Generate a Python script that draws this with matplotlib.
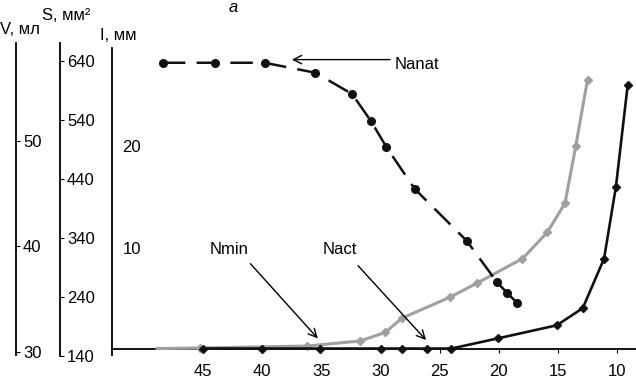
import numpy as np
import matplotlib.pyplot as plt

plt.rcParams['font.family'] = ['Liberation Sans', 'DejaVu Sans']

# %% data
# dashed curve (Nanat), S scale
anat_x = [48.4, 44.0, 39.8, 35.5, 32.4, 30.8, 29.5, 27.1, 22.7, 20.15, 19.3, 18.45]
anat_s = [637, 637, 637, 620, 584, 538, 494, 423, 335, 265, 247, 230]

# grey curve, I scale
grey_x = [48.9, 45.3, 36.2, 31.7, 29.6, 28.2, 24.1, 21.8, 18.0, 15.9, 14.4, 13.5, 12.5]
grey_i = [0, 0.05, 0.25, 0.75, 1.6, 3.0, 5.1, 6.5, 8.9, 11.5, 14.4, 20.0, 26.6]

# black curve, I scale
black_x = [45, 40, 35.1, 30, 28.2, 26.1, 24, 20.1, 15.1, 12.9, 11.1, 10.1, 9.1]
black_i = [0, 0, 0, 0, 0, 0, 0, 1.0, 2.3, 4.0, 8.9, 16.0, 26.1]

x_ticks = [45, 40, 35, 30, 25, 20, 15, 10]
v_ticks = [30, 40, 50]
s_ticks = [140, 240, 340, 440, 540, 640]
i_ticks = [10, 20]

W, H = 636, 384


def box(x0, y0, x1, y1):
    # pixel box (top-left origin) -> figure fraction rect
    return [x0 / W, 1 - y1 / H, (x1 - x0) / W, (y1 - y0) / H]


fig = plt.figure(figsize=(W / 100, H / 100), dpi=100)

# %% main axes (I scale)
ax = fig.add_axes(box(112, 48, 636, 355))
ax.set_xlim(52.7, 8.4)
ax.set_ylim(-0.64, 29.75)
ax.spines['top'].set_visible(False)
ax.spines['right'].set_visible(False)
ax.spines['bottom'].set_position(('data', 0))
ax.spines['left'].set_linewidth(1.3)
ax.spines['bottom'].set_linewidth(1.3)
ax.set_xticks(x_ticks)
ax.tick_params(axis='x', length=3, width=0.8, pad=8, labelsize=12)
ax.set_yticks(i_ticks)
ax.tick_params(axis='y', length=0, pad=-21, labelsize=12)
ax.patch.set_alpha(0)

ax.plot(grey_x, grey_i, color='#a0a0a0', lw=2.2, marker='D', ms=4.5,
        markevery=list(range(1, len(grey_x))), zorder=3)
ax.plot(black_x, black_i, color='#111111', lw=1.9, marker='D', ms=4.5, zorder=4)

# twin axes for the S scale of the dashed curve
ax2 = ax.twinx()
ax2.set_ylim(141.7, 662)
ax2.axis('off')
ax2.plot(anat_x, anat_s, color='#111111', lw=1.8, dashes=(9, 4.5),
         marker='o', ms=5.5, zorder=5)

# annotations
arrow = dict(arrowstyle='->', color='black', lw=1.0, mutation_scale=15,
             shrinkA=0, shrinkB=0)
ax.annotate('', xy=(37.5, 28.6), xytext=(29.2, 28.6), arrowprops=arrow)
ax.text(28.8, 28.1, 'Nanat', fontsize=12, ha='left', va='center')
ax.annotate('', xy=(35.3, 1.0), xytext=(41.0, 8.4), arrowprops=arrow)
ax.text(42.8, 9.85, 'Nmin', fontsize=12, ha='center', va='center')
ax.annotate('', xy=(26.15, 0.84), xytext=(31.9, 8.2), arrowprops=arrow)
ax.text(33.4, 9.85, 'Nact', fontsize=12, ha='center', va='center')


# %% extra vertical scales on the left
def side_axis(x_px, y0, y1, lims, ticks):
    a = fig.add_axes(box(x_px - 2, y0, x_px, y1))
    a.set_ylim(*lims)
    a.set_xticks([])
    for k in ['top', 'bottom', 'left']:
        a.spines[k].set_visible(False)
    a.spines['right'].set_linewidth(1.3)
    a.yaxis.tick_right()
    a.set_yticks(ticks)
    a.tick_params(axis='y', length=3, width=0.8, pad=2, labelsize=12)
    a.patch.set_alpha(0)
    return a


side_axis(16, 43, 355, (29.7, 59.3), v_ticks)
side_axis(60, 43, 356, (140, 670.5), s_ticks)

fig.text(0 / W, 1 - 30 / H, 'V, мл', fontsize=12, ha='left', va='center')
fig.text(42 / W, 1 - 16 / H, 'S, мм²', fontsize=12, ha='left', va='center')
fig.text(100 / W, 1 - 36 / H, 'I, мм', fontsize=12, ha='left', va='center')
fig.text(233 / W, 1 - 7 / H, 'а', fontsize=12, style='italic', ha='center', va='center')

fig.savefig('out.png', dpi=100)
